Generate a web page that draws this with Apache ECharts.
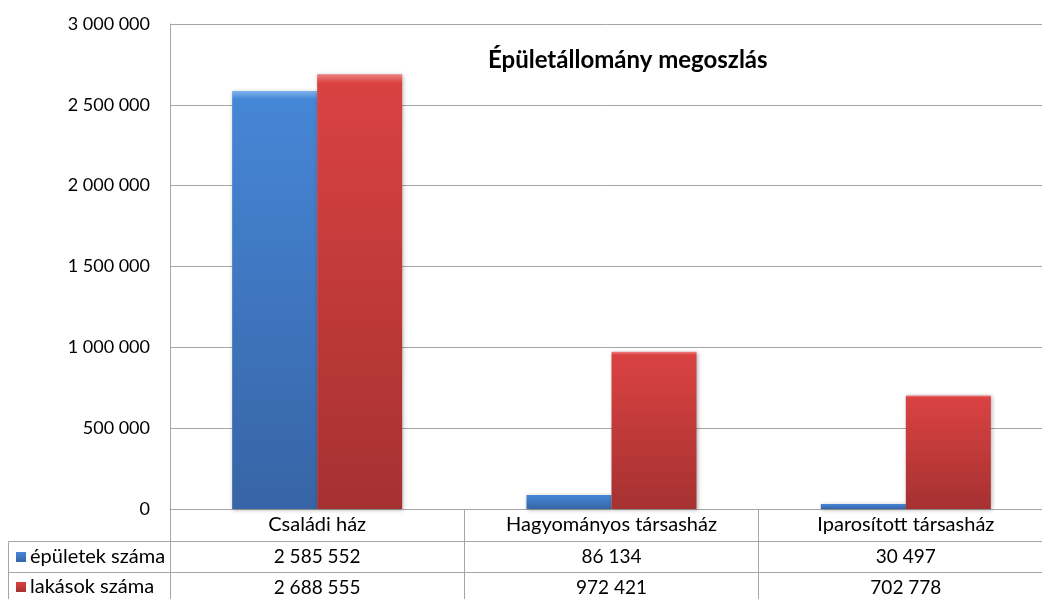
<!DOCTYPE html>
<html><head><meta charset="utf-8">
<script src="https://cdn.jsdelivr.net/npm/echarts@6/dist/echarts.min.js"></script>
<style>html,body{margin:0;padding:0;background:#fff}#c{width:1042px;height:599px}</style>
</head><body><div id="c"></div>
<script>
const categories = ['Családi ház', 'Hagyományos társasház', 'Iparosított társasház'];
const seriesNames = ['épületek száma', 'lakások száma'];
const epuletek = [2585552, 86134, 30497];
const lakasok = [2688555, 972421, 702778];
const yTicks = [0, 500000, 1000000, 1500000, 2000000, 2500000, 3000000];
const title = 'Épületállomány megoszlás';

const fmt = v => String(v).replace(/\B(?=(\d{3})+(?!\d))/g, ' ');
const FONT = 'Lato';
const GRAY = '#a6a6a6';
const chart = echarts.init(document.getElementById('c'));

function grad(top, mid, bottom) {
  return new echarts.graphic.LinearGradient(0, 0, 0, 1, [
    {offset: 0, color: top}, {offset: 0.02, color: mid}, {offset: 1, color: bottom}
  ]);
}

chart.setOption({
  animation: false,
  title: {text: title, left: 483, top: 43,
    textStyle: {fontFamily: FONT, fontWeight: 'bold', fontSize: 24, color: '#000'}},
  grid: {left: 170, top: 24, bottom: 90, width: 883, outerBoundsMode: 'none', containLabel: false},
  yAxis: {type: 'value', min: yTicks[0], max: yTicks[yTicks.length - 1], interval: 500000,
    axisLine: {show: true, lineStyle: {color: GRAY}},
    axisTick: {show: false},
    splitLine: {lineStyle: {color: GRAY}},
    axisLabel: {formatter: v => fmt(v), fontFamily: FONT, fontSize: 18, color: '#000', margin: 20}},
  xAxis: [
    {type: 'category', data: categories, position: 'bottom',
      axisLine: {lineStyle: {color: GRAY}},
      axisTick: {show: true, length: 92, lineStyle: {color: GRAY}},
      axisLabel: {fontFamily: FONT, fontSize: 20, color: '#000', margin: 6}},
    {type: 'category', data: epuletek.map(fmt), position: 'bottom', offset: 32,
      axisLine: {lineStyle: {color: GRAY}}, axisTick: {show: false},
      axisLabel: {fontFamily: FONT, fontSize: 19, color: '#000', margin: 6}},
    {type: 'category', data: lakasok.map(fmt), position: 'bottom', offset: 63,
      axisLine: {lineStyle: {color: GRAY}}, axisTick: {show: false},
      axisLabel: {fontFamily: FONT, fontSize: 19, color: '#000', margin: 6}}
  ],
  series: [
    {name: seriesNames[0], type: 'bar', data: epuletek, barWidth: 85, barGap: '0%',
      itemStyle: {color: grad('#7fb2ee', '#4686d6', '#3764a6'),
        shadowColor: 'rgba(0,0,0,0.3)', shadowBlur: 4, shadowOffsetX: 1, shadowOffsetY: 1}},
    {name: seriesNames[1], type: 'bar', data: lakasok, barWidth: 85,
      itemStyle: {color: grad('#f08080', '#da4242', '#a63131'),
        shadowColor: 'rgba(0,0,0,0.3)', shadowBlur: 4, shadowOffsetX: 1, shadowOffsetY: 1}}
  ],
  graphic: [
    {type: 'line', shape: {x1: 8.5, y1: 541.5, x2: 170, y2: 541.5}, style: {stroke: GRAY, lineWidth: 1}},
    {type: 'line', shape: {x1: 8.5, y1: 572.5, x2: 170, y2: 572.5}, style: {stroke: GRAY, lineWidth: 1}},
    {type: 'line', shape: {x1: 8.5, y1: 541.5, x2: 8.5, y2: 599}, style: {stroke: GRAY, lineWidth: 1}},
    {type: 'rect', shape: {x: 16, y: 552, width: 10, height: 10},
      style: {fill: grad('#7fb2ee', '#4686d6', '#3764a6')}},
    {type: 'rect', shape: {x: 16, y: 582, width: 10, height: 10},
      style: {fill: grad('#f08080', '#da4242', '#a63131')}},
    {type: 'text', x: 30, y: 557, style: {text: seriesNames[0], font: '20px ' + FONT, fill: '#000', textVerticalAlign: 'middle'}},
    {type: 'text', x: 30, y: 587, style: {text: seriesNames[1], font: '20px ' + FONT, fill: '#000', textVerticalAlign: 'middle'}}
  ]
});
</script></body></html>
